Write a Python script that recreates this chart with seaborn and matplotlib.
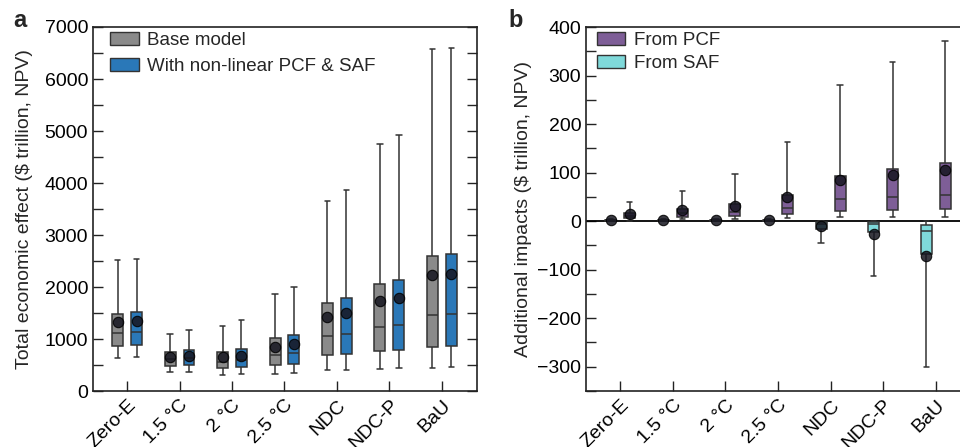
import numpy as np
import pandas as pd
import seaborn as sns
import matplotlib.pyplot as plt
from matplotlib.patches import Patch
from matplotlib.ticker import MultipleLocator

# scenario names on the x axis
scenarios = ["Zero-E", "1.5 °C", "2 °C", "2.5 °C", "NDC", "NDC-P", "BaU"]

# panel a: box stats ($ trillion, NPV)
base_lo = [640, 365, 312, 325, 395, 421, 446]
base_q1 = [874, 484, 440, 503, 688, 771, 855]
base_med = [1115, 610, 560, 694, 1058, 1237, 1453]
base_q3 = [1486, 752, 752, 1014, 1696, 2052, 2588]
base_hi = [2510, 1096, 1256, 1861, 3659, 4743, 6573]
base_mean = [1320, 650, 650, 854, 1428, 1734, 2232]

nl_lo = [656, 369, 319, 338, 408, 434, 453]
nl_q1 = [886, 491, 453, 516, 708, 797, 874]
nl_med = [1142, 640, 599, 740, 1103, 1275, 1486]
nl_q3 = [1511, 784, 809, 1071, 1779, 2129, 2633]
nl_hi = [2530, 1173, 1364, 2008, 3869, 4915, 6592]
nl_mean = [1345, 682, 682, 905, 1492, 1792, 2257]

# panel b: additional impacts
pcf_lo = [1, 3.5, 4, 5.5, 8, 8, 8]
pcf_q1 = [5.5, 9, 10, 14, 21, 23, 24]
pcf_med = [10, 16, 18.5, 27, 45, 50, 54]
pcf_q3 = [16, 24, 35, 54, 94, 108, 120]
pcf_hi = [39, 62.5, 97, 163, 281, 327, 372]
pcf_mean = [13.8, 22.7, 31.6, 49, 84, 96, 106]

saf_lo = [0, 0, 0, 0, -46, -114, -301]
saf_q1 = [1, 1, 1, 1, -17, -23, -68]
saf_med = [2, 2, 2, 2, -6, -6, -21]
saf_q3 = [3, 3, 3, 3, -1, -1, -7]
saf_hi = [4, 4, 4, 4, -0.5, 0, 0]
saf_mean = [3, 2, 2, 2, -9.6, -27, -72]

GRAY = "#8a8a8a"
BLUE = "#2a78b8"
PURPLE = "#7e5e97"
CYAN = "#7fd9da"
DOT = "#161620"
EDGE = "#333333"


def long_form(groups):
    # five values per box, so quartiles/whiskers land on the read-off stats
    rows = []
    for name, stats in groups.items():
        for i, sc in enumerate(scenarios):
            for v in [s[i] for s in stats]:
                rows.append({"scenario": sc, "group": name, "value": v})
    return pd.DataFrame(rows)


def mean_frame(groups):
    rows = []
    for name, means in groups.items():
        for sc, m in zip(scenarios, means):
            rows.append({"scenario": sc, "group": name, "value": m})
    return pd.DataFrame(rows)


def draw_panel(ax, box_df, mean_df, order, palette):
    sns.boxplot(data=box_df, x="scenario", y="value", hue="group",
                order=scenarios, hue_order=order, palette=palette,
                width=0.72, gap=0.42, whis=(0, 100), showfliers=False,
                saturation=1, linecolor=EDGE, linewidth=1.1,
                legend=False, ax=ax)
    sns.pointplot(data=mean_df, x="scenario", y="value", hue="group",
                  order=scenarios, hue_order=order, palette=[DOT, DOT],
                  dodge=0.36, linestyle="none", markers="o", errorbar=None,
                  markersize=7.5, markeredgecolor="black", markeredgewidth=0.8,
                  alpha=0.85, legend=False, ax=ax, zorder=5)
    ax.set_xlim(-0.65, 6.67)
    ax.set_xlabel("")
    ax.set_xticks(range(len(scenarios)))
    ax.set_xticklabels(scenarios, rotation=45, ha="right",
                       rotation_mode="anchor", fontsize=13.5)
    ax.tick_params(axis="both", direction="in", length=7, width=1,
                   colors="#222222", labelcolor="black", labelsize=14)
    ax.tick_params(axis="x", pad=4)
    ax.tick_params(axis="y", which="minor", direction="in", length=7, width=1)
    for sp in ax.spines.values():
        sp.set_visible(True)
        sp.set_linewidth(1.2)
        sp.set_color("#222222")


sns.set_style("ticks")
plt.rcParams["font.family"] = ["Liberation Sans", "DejaVu Sans"]

fig = plt.figure(figsize=(9.6, 4.47), dpi=100)
bottom = 1 - 391 / 447
height = (391 - 27) / 447
ax_a = fig.add_axes([93 / 960, bottom, 384 / 960, height])
ax_b = fig.add_axes([586 / 960, bottom, 385 / 960, height])

# ---- panel a
a_box = long_form({
    "Base model": [base_lo, base_q1, base_med, base_q3, base_hi],
    "With non-linear PCF & SAF": [nl_lo, nl_q1, nl_med, nl_q3, nl_hi],
})
a_mean = mean_frame({"Base model": base_mean,
                     "With non-linear PCF & SAF": nl_mean})
draw_panel(ax_a, a_box, a_mean, ["Base model", "With non-linear PCF & SAF"],
           [GRAY, BLUE])
ax_a.set_ylim(0, 7000)
ax_a.yaxis.set_major_locator(MultipleLocator(1000))
ax_a.yaxis.set_minor_locator(MultipleLocator(500))
ax_a.tick_params(axis="y", which="both", right=True)
ax_a.set_ylabel("Total economic effect ($ trillion, NPV)", fontsize=14)
ax_a.yaxis.set_label_coords(-0.155, 0.5)
ax_a.legend(handles=[Patch(facecolor=GRAY, edgecolor=EDGE, label="Base model"),
                     Patch(facecolor=BLUE, edgecolor=EDGE,
                           label="With non-linear PCF & SAF")],
            loc="upper left", bbox_to_anchor=(0.016, 1.018), frameon=False,
            fontsize=13.5, handlelength=1.5, handleheight=0.7,
            handletextpad=0.45, labelspacing=0.5, borderaxespad=0.2)

# ---- panel b
b_box = long_form({
    "From SAF": [saf_lo, saf_q1, saf_med, saf_q3, saf_hi],
    "From PCF": [pcf_lo, pcf_q1, pcf_med, pcf_q3, pcf_hi],
})
b_mean = mean_frame({"From SAF": saf_mean, "From PCF": pcf_mean})
ax_b.axhline(0, color="black", linewidth=1.3, zorder=1.5)
draw_panel(ax_b, b_box, b_mean, ["From SAF", "From PCF"], [CYAN, PURPLE])
ax_b.set_ylim(-350, 400)
ax_b.yaxis.set_major_locator(MultipleLocator(100))
ax_b.yaxis.set_minor_locator(MultipleLocator(50))
ax_b.set_ylabel("Additional impacts ($ trillion, NPV)", fontsize=14)
ax_b.yaxis.set_label_coords(-0.14, 0.5)
ax_b.legend(handles=[Patch(facecolor=PURPLE, edgecolor=EDGE, label="From PCF"),
                     Patch(facecolor=CYAN, edgecolor=EDGE, label="From SAF")],
            loc="upper left", bbox_to_anchor=(0.0, 1.018), frameon=False,
            fontsize=13.5, handlelength=1.5, handleheight=0.7,
            handletextpad=0.45, labelspacing=0.32, borderaxespad=0.2)

fig.text(13 / 960, 1 - 27 / 447, "a", fontsize=17, fontweight="bold")
fig.text(508 / 960, 1 - 27 / 447, "b", fontsize=17, fontweight="bold")

fig.savefig("out.png", dpi=100)
